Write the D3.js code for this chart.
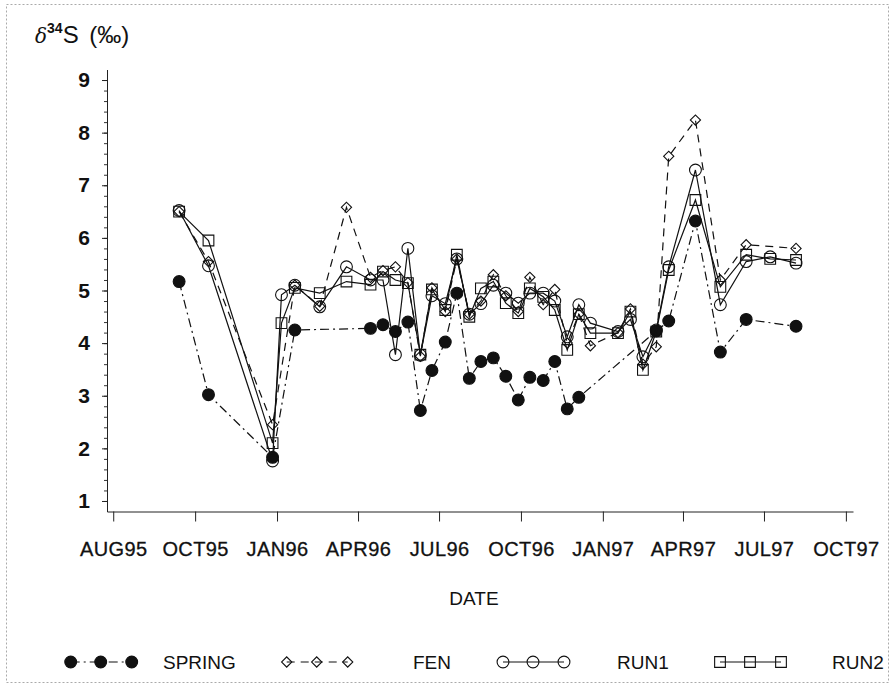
<!DOCTYPE html>
<html>
<head>
<meta charset="utf-8">
<script src="https://cdnjs.cloudflare.com/ajax/libs/d3/7.8.5/d3.min.js"></script>
<style>
  body { margin: 0; background: #fff; }
  svg text { font-family: "Liberation Sans", Arial, sans-serif; fill: #111; }
</style>
</head>
<body>
<div id="chart"></div>
<script>
// sampling dates
var dates = ["1995-09-13","1995-10-16","1995-12-27","1996-01-06","1996-01-21","1996-02-18",
  "1996-03-19","1996-04-15","1996-04-29","1996-05-13","1996-05-27","1996-06-10",
  "1996-06-23","1996-07-08","1996-07-21","1996-08-04","1996-08-17","1996-08-31",
  "1996-09-14","1996-09-28","1996-10-11","1996-10-26","1996-11-08","1996-11-22",
  "1996-12-05","1996-12-18","1997-01-18","1997-02-01","1997-02-15","1997-03-02",
  "1997-03-16","1997-04-15","1997-05-13","1997-06-11","1997-07-08","1997-08-06"];

var spring = [5.17,3.02,1.83,null,4.25,null,null,4.28,4.35,4.22,4.40,2.72,
  3.48,4.02,4.95,3.33,3.65,3.72,3.37,2.92,3.35,3.29,3.65,2.75,
  2.97,null,null,null,null,4.23,4.42,6.32,3.83,4.45,null,4.32];
var fen = [6.50,5.55,2.45,null,5.10,4.70,6.58,5.25,5.38,5.45,5.15,3.75,
  5.05,4.60,5.60,4.55,4.80,5.30,4.90,4.60,5.25,4.73,5.02,4.00,
  4.55,3.95,4.20,4.65,3.60,3.93,7.55,8.24,5.20,5.87,null,5.80];
var run1 = [6.52,5.47,1.76,4.92,5.10,4.69,5.45,5.20,5.20,3.78,5.80,3.77,
  4.90,4.75,5.60,4.55,4.75,5.10,4.95,4.76,4.95,4.95,4.80,4.12,
  4.73,4.38,4.22,4.45,3.74,4.25,5.45,7.29,4.73,5.55,5.64,5.52];
var run2 = [6.50,5.95,2.10,4.38,5.05,4.95,5.17,5.11,5.36,5.20,5.14,3.78,
  5.02,4.63,5.68,4.50,5.04,5.17,4.76,4.57,5.04,4.88,4.63,3.87,
  4.55,4.19,4.19,4.60,3.49,4.22,5.39,6.72,5.07,5.68,5.60,5.58];

var tickDates = ["1995-07-01","1995-10-01","1996-01-01","1996-04-01","1996-07-01",
  "1996-10-01","1997-01-01","1997-04-01","1997-07-01","1997-10-01"];
var tickLabels = ["AUG95","OCT95","JAN96","APR96","JUL96","OCT96","JAN97","APR97","JUL97","OCT97"];
var yTicks = [1,2,3,4,5,6,7,8,9];

var seriesNames = ["SPRING","FEN","RUN1","RUN2"];

var width = 891, height = 684;
var parse = d3.timeParse("%Y-%m-%d");

var svg = d3.select("#chart")
  .append("svg")
  .attr("width", width)
  .attr("height", height);

// faint scan border
svg.append("rect")
  .attr("x", 6.5).attr("y", 4.5)
  .attr("width", 882).attr("height", 678)
  .attr("fill", "none")
  .attr("stroke", "#aaa")
  .attr("stroke-dasharray", "2,2");

var x = d3.scaleTime()
  .domain([parse("1995-06-24"), parse("1997-10-09")])
  .range([107, 853]);

var y = d3.scaleLinear()
  .domain([0.8, 9.2])
  .range([511.5, 69.5]);

// x axis
var xAxis = svg.append("g")
  .attr("transform", "translate(0," + y(0.8) + ")")
  .call(d3.axisBottom(x)
    .tickValues(tickDates.map(parse))
    .tickSize(10)
    .tickSizeOuter(0)
    .tickFormat(function(d, i) { return tickLabels[i]; }));
xAxis.select(".domain").attr("stroke", "#222");
xAxis.selectAll(".tick line").attr("stroke", "#222");
xAxis.selectAll("text")
  .attr("y", 30)
  .style("font-size", "20px")
  .style("letter-spacing", "0.4px")
  .style("stroke", "#111")
  .style("stroke-width", "0.3px");

// y axis, minor ticks first
svg.append("g")
  .attr("transform", "translate(" + x.range()[0] + ",0)")
  .call(d3.axisLeft(y)
    .tickValues(d3.range(1, 9.01, 0.2))
    .tickSize(3)
    .tickSizeOuter(0)
    .tickFormat(""))
  .call(function(g) { g.select(".domain").remove(); })
  .selectAll("line").attr("stroke", "#333");

var yAxis = svg.append("g")
  .attr("transform", "translate(" + x.range()[0] + ",0)")
  .call(d3.axisLeft(y)
    .tickValues(yTicks)
    .tickSize(5)
    .tickSizeOuter(0)
    .tickPadding(12));
yAxis.select(".domain").attr("stroke", "#222");
yAxis.selectAll(".tick line").attr("stroke", "#222");
yAxis.selectAll("text")
  .style("font-size", "21px")
  .style("font-weight", "bold");

// title
var title = svg.append("text")
  .attr("x", 35)
  .attr("y", 43)
  .style("font-size", "24px");
title.append("tspan").text("δ").style("font-style", "italic").style("font-family", "DejaVu Serif, serif").style("font-size", "20px");
title.append("tspan").text("34").attr("dy", -10).style("font-size", "14px").style("font-weight", "bold");
title.append("tspan").text("S").attr("dy", 10);
title.append("tspan").text(" (‰)").attr("dx", 4);

// axis label
svg.append("text")
  .attr("x", 474)
  .attr("y", 605)
  .attr("text-anchor", "middle")
  .style("font-size", "19px")
  .text("DATE");

var styles = {
  SPRING: {values: spring, dash: "9,4,2,4", symbol: "circle", fill: "#111"},
  FEN:    {values: fen,    dash: "8,6",     symbol: "diamond", fill: "none"},
  RUN1:   {values: run1,   dash: null,      symbol: "circle", fill: "none"},
  RUN2:   {values: run2,   dash: null,      symbol: "square", fill: "none"}
};

function symbolPath(type) {
  if (type == "square") return d3.symbol().type(d3.symbolSquare).size(115)();
  if (type == "diamond") return d3.symbol().type(d3.symbolSquare).size(52)();
  return d3.symbol().type(d3.symbolCircle).size(110)();
}

function drawMarker(g, name, cx, cy) {
  var s = styles[name];
  g.append("path")
    .attr("d", symbolPath(s.symbol))
    .attr("transform", "translate(" + cx + "," + cy + ")" + (s.symbol == "diamond" ? " rotate(45)" : ""))
    .attr("fill", s.fill)
    .attr("stroke", "#111")
    .attr("stroke-width", 1.1);
}

var line = d3.line()
  .x(function(d) { return x(d.date); })
  .y(function(d) { return y(d.value); });

seriesNames.forEach(function(name) {
  var s = styles[name];
  var pts = [];
  for (var i = 0; i < dates.length; i++) {
    if (s.values[i] != null) pts.push({date: parse(dates[i]), value: s.values[i]});
  }
  var g = svg.append("g").attr("class", "series-" + name);
  g.append("path")
    .datum(pts)
    .attr("d", line)
    .attr("fill", "none")
    .attr("stroke", "#111")
    .attr("stroke-width", 1.2)
    .attr("stroke-dasharray", s.dash);
  pts.forEach(function(p) {
    drawMarker(g, name, x(p.date), y(p.value));
  });
});

// legend
var legendSym = [70.7, 286.7, 503, 720];
var legendText = [163, 413, 617, 832];
var legY = 662;
seriesNames.forEach(function(name, i) {
  var g = svg.append("g");
  var xs = [legendSym[i], legendSym[i] + 30, legendSym[i] + 61];
  g.append("line")
    .attr("x1", xs[0]).attr("x2", xs[2])
    .attr("y1", legY).attr("y2", legY)
    .attr("stroke", "#111")
    .attr("stroke-width", 1.2)
    .attr("stroke-dasharray", styles[name].dash);
  xs.forEach(function(px) { drawMarker(g, name, px, legY); });
  g.append("text")
    .attr("x", legendText[i])
    .attr("y", legY + 7)
    .style("font-size", "19px")
    .text(name);
});
</script>
</body>
</html>
